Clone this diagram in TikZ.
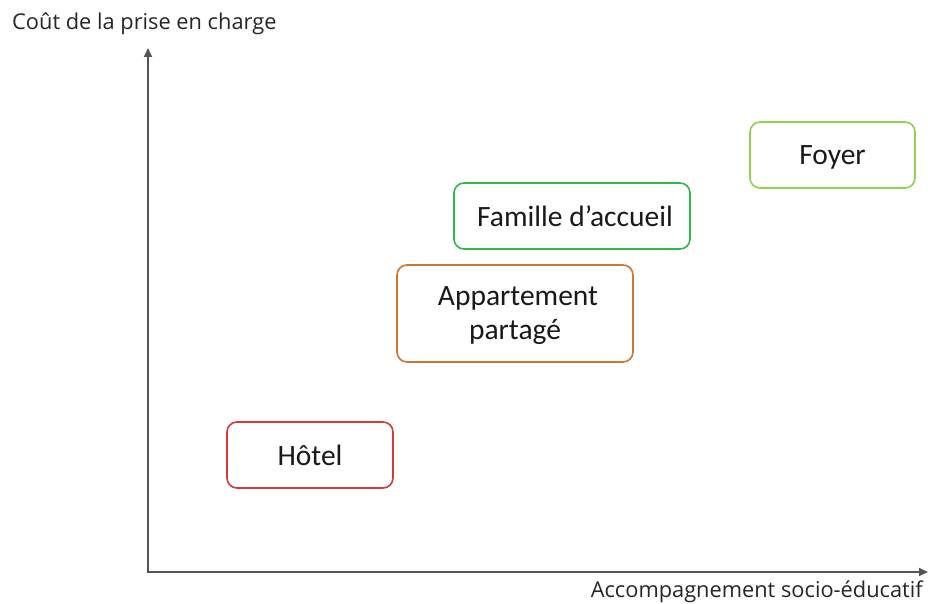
\documentclass[tikz,border=0pt]{standalone}
\usepackage{fontspec}
\setmainfont{Carlito}
\newfontfamily\axisfont{Open Sans}
\usetikzlibrary{arrows.meta}
\definecolor{axisgray}{HTML}{555555}
\definecolor{foyergreen}{HTML}{92D050}
\definecolor{famgreen}{HTML}{2DB84C}
\definecolor{apporange}{HTML}{D0762F}
\definecolor{hotelred}{HTML}{D63A3A}
\begin{document}
\begin{tikzpicture}[x=1pt,y=-1pt,
  axis/.style={draw=axisgray,line width=2pt,-{Triangle[width=8pt,length=9pt]}},
  cat/.style={draw,line width=1.6pt,rounded corners=10pt,fill=white,align=center,
    font=\fontsize{29.5}{34}\selectfont,inner sep=0pt,text=black!90,text depth=0pt},
  axlabel/.style={font=\axisfont\fontsize{21.8}{24}\selectfont,inner sep=0pt,text=black!85}]
\useasboundingbox (0,0) rectangle (928,604);
\coordinate (o) at (148,572);
\coordinate (ytop) at (148,48);
\coordinate (xend) at (928,572);
\draw[axis] (o) -- (ytop);
\draw[axis] ([xshift=-1pt]o) -- (xend);
\node[axlabel,anchor=west] (ylab) at (12,24) {Coût de la prise en charge};
\node[axlabel,anchor=east] (xlab) at (923,592) {Accompagnement socio-éducatif};
\node[cat,draw=foyergreen,minimum width=165pt,minimum height=66pt] (foyer) at (832.5,155) {Foyer};
\node[cat,draw=famgreen,minimum width=236pt,minimum height=66pt] (fam) at (572,216) {\hspace*{6pt}Famille d’accueil};
\node[cat,draw=apporange,minimum width=236pt,minimum height=97pt] (app) at (515,313.5) {\hspace*{6pt}Appartement\\partagé};
\node[cat,draw=hotelred,minimum width=166pt,minimum height=66pt] (hotel) at (310,455) {Hôtel};
\end{tikzpicture}
\end{document}
